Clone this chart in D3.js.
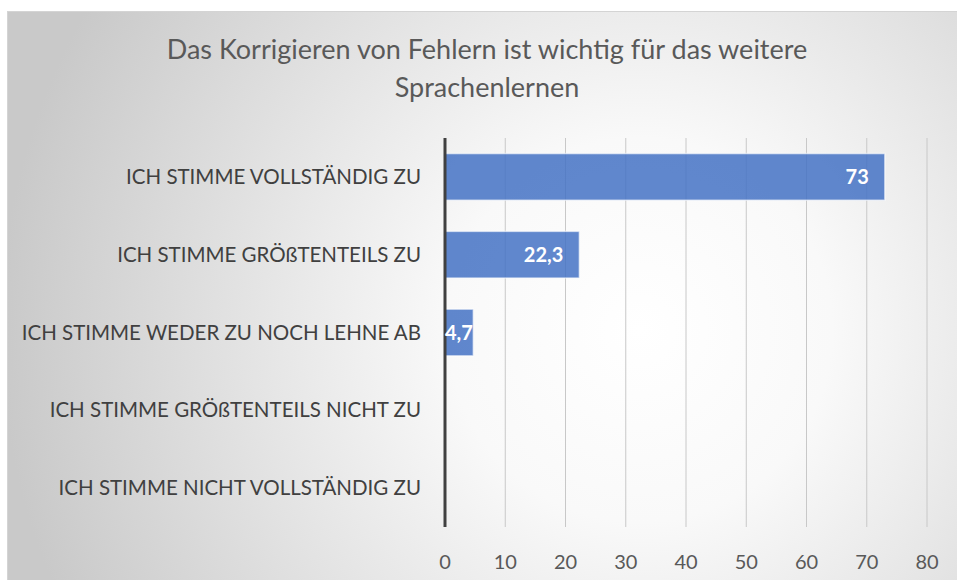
<!DOCTYPE html>
<html>
<head>
<meta charset="utf-8">
<script src="https://cdn.jsdelivr.net/npm/d3@7"></script>
<style>
  body { margin: 0; background: #ffffff; }
  svg { display: block; font-family: Lato, "Noto Sans", sans-serif; }
</style>
</head>
<body>
<svg width="957" height="580"></svg>
<script>
var categories = [
  "ICH STIMME VOLLSTÄNDIG ZU",
  "ICH STIMME GRÖßTENTEILS ZU",
  "ICH STIMME WEDER ZU NOCH LEHNE AB",
  "ICH STIMME GRÖßTENTEILS NICHT ZU",
  "ICH STIMME NICHT VOLLSTÄNDIG ZU"
];
var values = [73, 22.3, 4.7, 0, 0];
var xTicks = [0, 10, 20, 30, 40, 50, 60, 70, 80];
var titleLines = ["Das Korrigieren von Fehlern ist wichtig für das weitere", "Sprachenlernen"];

var svg = d3.select("svg"),
    margin = {top: 138, right: 30, bottom: 53, left: 445},
    width = +svg.attr("width"),
    height = +svg.attr("height");

// background gradient like the excel chart area
var defs = svg.append("defs");
var grad = defs.append("radialGradient")
    .attr("id", "bg")
    .attr("gradientUnits", "userSpaceOnUse")
    .attr("cx", 640).attr("cy", 330).attr("r", 640);
grad.append("stop").attr("offset", "0").attr("stop-color", "#ffffff");
grad.append("stop").attr("offset", "0.3").attr("stop-color", "#f9f9f9");
grad.append("stop").attr("offset", "1").attr("stop-color", "#c9c9c9");

svg.append("rect")
    .attr("x", 7.5).attr("y", 11.5)
    .attr("width", width).attr("height", height)
    .attr("fill", "url(#bg)")
    .attr("stroke", "#d4d4d4");

var x = d3.scaleLinear()
    .domain([0, 80])
    .range([margin.left, 927]);

var y = d3.scaleBand()
    .domain(categories)
    .range([margin.top, height - margin.bottom])
    .paddingInner(0.4)
    .paddingOuter(0.2);

// title
svg.append("g").selectAll("text")
    .data(titleLines)
  .enter().append("text")
    .attr("x", 487)
    .attr("y", function(d, i) { return 59 + i * 38; })
    .attr("text-anchor", "middle")
    .attr("fill", "#595959")
    .style("font-size", "27px")
    .text(function(d) { return d; });

// gridlines
svg.append("g").selectAll("line")
    .data(xTicks.slice(1))
  .enter().append("line")
    .attr("x1", function(d) { return x(d); })
    .attr("x2", function(d) { return x(d); })
    .attr("y1", margin.top)
    .attr("y2", height - margin.bottom)
    .attr("stroke", "#c8c8c8")
    .attr("stroke-width", 1);

// bars
svg.append("g").selectAll("rect")
    .data(values)
  .enter().append("rect")
    .attr("x", x(0))
    .attr("y", function(d, i) { return y(categories[i]); })
    .attr("width", function(d) { return x(d) - x(0); })
    .attr("height", y.bandwidth())
    .attr("fill", "#4472c4")
    .attr("fill-opacity", 0.85)
    .attr("stroke", "#ffffff")
    .attr("stroke-opacity", 0.6)
    .attr("stroke-width", 1.5);

// value axis line
svg.append("line")
    .attr("x1", x(0)).attr("x2", x(0))
    .attr("y1", margin.top).attr("y2", height - margin.bottom)
    .attr("stroke", "#404040")
    .attr("stroke-width", 3);

// x tick labels
svg.append("g").selectAll("text")
    .data(xTicks)
  .enter().append("text")
    .attr("x", function(d) { return x(d); })
    .attr("y", 569)
    .attr("text-anchor", "middle")
    .attr("fill", "#595959")
    .style("font-size", "20px")
    .text(function(d) { return d; });

// category labels
svg.append("g").selectAll("text")
    .data(categories)
  .enter().append("text")
    .attr("x", 421)
    .attr("y", function(d) { return y(d) + y.bandwidth() / 2; })
    .attr("dy", "0.35em")
    .attr("text-anchor", "end")
    .attr("fill", "#404040")
    .style("font-size", "20.5px")
    .text(function(d) { return d; });

// value labels, inside end
var fmt = function(v) { return String(v).replace(".", ","); };
svg.append("g").selectAll("text")
    .data(values.filter(function(d) { return d > 0; }))
  .enter().append("text")
    .attr("y", function(d, i) { return y(categories[i]) + y.bandwidth() / 2; })
    .attr("dy", "0.35em")
    .attr("text-anchor", "end")
    .attr("fill", "#ffffff")
    .style("font-size", "20px")
    .style("font-weight", "bold")
    .text(fmt)
    .attr("x", function(d) {
      var w = this.getComputedTextLength();
      return Math.max(x(d) - 16, x(0) + w);
    });
</script>
</body>
</html>
